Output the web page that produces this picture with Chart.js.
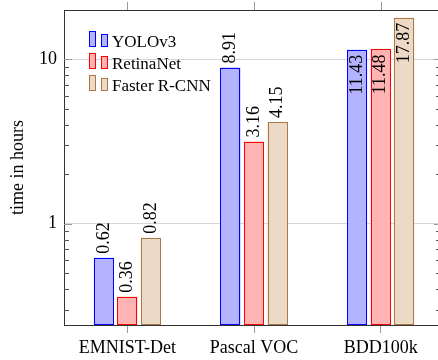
<!DOCTYPE html>
<html><head><meta charset="utf-8">
<script src="https://cdn.jsdelivr.net/npm/chart.js@4/dist/chart.umd.min.js"></script>
<style>
html,body{margin:0;padding:0;overflow:hidden;background:#fff;width:438px;height:360px}
#wrap{width:446px;height:360px;position:relative}
canvas{display:block;position:relative;z-index:1}
#probe{position:absolute;left:2px;top:2px;font:18px "Liberation Serif";opacity:0;z-index:0}
</style></head>
<body><div id="wrap"><span id="probe" aria-hidden="true">1</span><canvas id="c" width="446" height="360"></canvas></div>
<script>
const categories = ['EMNIST-Det', 'Pascal VOC', 'BDD100k'];
const seriesNames = ['YOLOv3', 'RetinaNet', 'Faster R-CNN'];
const yolov3 = [0.62, 8.91, 11.43];
const retinaNet = [0.36, 3.16, 11.48];
const fasterRCNN = [0.82, 4.15, 17.87];
const yTickLabels = [1, 10];
const yMinorTicks = [0.3, 0.4, 0.5, 0.6, 0.7, 0.8, 0.9, 2, 3, 4, 5, 6, 7, 8, 9];
const yMin = 0.242, yMax = 19.95;

const fills = ['#b3b3ff', '#ffb3b3', '#ecd9c6'];
const borders = ['#0000ff', '#ff0000', '#a87848'];
const FONT = '"Liberation Serif"';

void document.getElementById('probe').offsetWidth;

const decor = {
  id: 'decor',
  afterDatasetsDraw(chart) {
    const ctx = chart.ctx, a = chart.chartArea, y = chart.scales.y, x = chart.scales.x;
    ctx.save();
    ctx.lineWidth = 1;
    // bar outlines
    chart.data.datasets.forEach((ds, i) => {
      ctx.strokeStyle = ds.borderColor;
      chart.getDatasetMeta(i).data.forEach(bar => {
        const l = Math.round(bar.x - bar.width / 2) + 0.5;
        const r = Math.round(bar.x + bar.width / 2) - 0.5;
        const t = Math.round(bar.y) + 0.5;
        const b = Math.round(bar.base) - 0.5;
        ctx.strokeRect(l, t, r - l, b - t);
      });
    });
    // top border
    ctx.strokeStyle = '#333';
    ctx.beginPath(); ctx.moveTo(a.left, Math.round(a.top) + 0.5); ctx.lineTo(a.right, Math.round(a.top) + 0.5); ctx.stroke();
    // top x ticks
    ctx.strokeStyle = '#999';
    categories.forEach((c, i) => {
      const px = Math.round(x.getPixelForValue(i)) + 0.5;
      ctx.beginPath(); ctx.moveTo(px, a.top); ctx.lineTo(px, a.top - 8); ctx.stroke();
    });
    // minor y ticks
    ctx.strokeStyle = '#555';
    yMinorTicks.forEach(v => {
      const py = Math.round(y.getPixelForValue(v)) + 0.5;
      ctx.beginPath(); ctx.moveTo(a.left, py); ctx.lineTo(a.left + 5, py); ctx.stroke();
      ctx.beginPath(); ctx.moveTo(a.right, py); ctx.lineTo(a.right - 8, py); ctx.stroke();
    });
    ctx.strokeStyle = '#999';
    yTickLabels.forEach(v => {
      const py = Math.round(y.getPixelForValue(v)) + 0.5;
      ctx.beginPath(); ctx.moveTo(a.left, py); ctx.lineTo(a.left + 8, py); ctx.stroke();
      ctx.beginPath(); ctx.moveTo(a.right, py); ctx.lineTo(a.right - 10, py); ctx.stroke();
    });
    // value labels
    ctx.font = '18px ' + FONT; ctx.fillStyle = '#000'; ctx.textBaseline = 'middle';
    chart.data.datasets.forEach((ds, i) => {
      chart.getDatasetMeta(i).data.forEach((bar, j) => {
        const v = ds.data[j], txt = v.toFixed(2);
        const w = ctx.measureText(txt).width;
        const inside = bar.y - 4 - w < a.top;
        ctx.save();
        ctx.translate(bar.x, inside ? bar.y + 5 : bar.y - 4);
        ctx.rotate(-Math.PI / 2);
        ctx.textAlign = inside ? 'right' : 'left';
        ctx.fillText(txt, 0, 0);
        ctx.restore();
      });
    });
    // legend
    ctx.font = '17px ' + FONT; ctx.textAlign = 'left'; ctx.textBaseline = 'middle';
    chart.data.datasets.forEach((ds, i) => {
      const yc = 42 + 22 * i;
      ctx.fillStyle = ds.backgroundColor; ctx.strokeStyle = ds.borderColor;
      ctx.fillRect(89, yc - 11, 7, 16); ctx.strokeRect(89.5, yc - 10.5, 6, 15);
      ctx.fillRect(101, yc - 8, 7, 13); ctx.strokeRect(101.5, yc - 7.5, 6, 12);
      ctx.fillStyle = '#000';
      ctx.fillText(ds.label, 112, yc + 1);
    });
    ctx.restore();
  }
};

Chart.defaults.font.family = FONT;
const chart = new Chart(document.getElementById('c'), {
  type: 'bar',
  data: {
    labels: categories,
    datasets: [yolov3, retinaNet, fasterRCNN].map((d, i) => ({
      label: seriesNames[i], data: d,
      backgroundColor: fills[i], borderColor: borders[i], borderWidth: 0,
      categoryPercentage: 0.557, barPercentage: 0.851
    }))
  },
  options: {
    responsive: false, animation: false, events: [],
    layout: { padding: { top: 10, right: 2, left: 0, bottom: 0 } },
    plugins: { legend: { display: false }, tooltip: { enabled: false } },
    scales: {
      x: {
        offset: true,
        grid: { display: true, offset: false, drawOnChartArea: false, drawTicks: true, tickLength: 8, color: '#999' },
        border: { display: true, color: '#333', width: 1 },
        ticks: { font: { size: 18, family: FONT }, color: '#000', padding: 4, maxRotation: 0 },
        afterFit(s) { s.height = 35; s.paddingLeft = 0; s.paddingRight = 0; }
      },
      y: {
        type: 'logarithmic', min: yMin, max: yMax,
        grid: { drawTicks: false, color: c => (c.tick && yTickLabels.includes(c.tick.value)) ? '#d6d6d6' : 'rgba(0,0,0,0)' },
        border: { display: true, color: '#333', width: 1 },
        ticks: { autoSkip: false, padding: 7, font: { size: 18, family: FONT }, color: '#000',
          callback: v => yTickLabels.includes(v) ? String(v) : '' },
        title: { display: true, text: 'time in hours', font: { size: 18, family: FONT }, color: '#000', padding: { top: 7, bottom: 0 } },
        afterFit(s) { s.width = 64; s.paddingTop = 0; s.paddingBottom = 0; }
      }
    }
  },
  plugins: [decor]
});
function redraw() { chart.update('none'); }
if (document.fonts) {
  document.fonts.load('18px "Liberation Serif"', '1').then(redraw);
  document.fonts.ready.then(redraw);
}
window.addEventListener('load', () => { redraw(); requestAnimationFrame(redraw); });
setTimeout(redraw, 50);
setTimeout(redraw, 250);
</script>
</body></html>
